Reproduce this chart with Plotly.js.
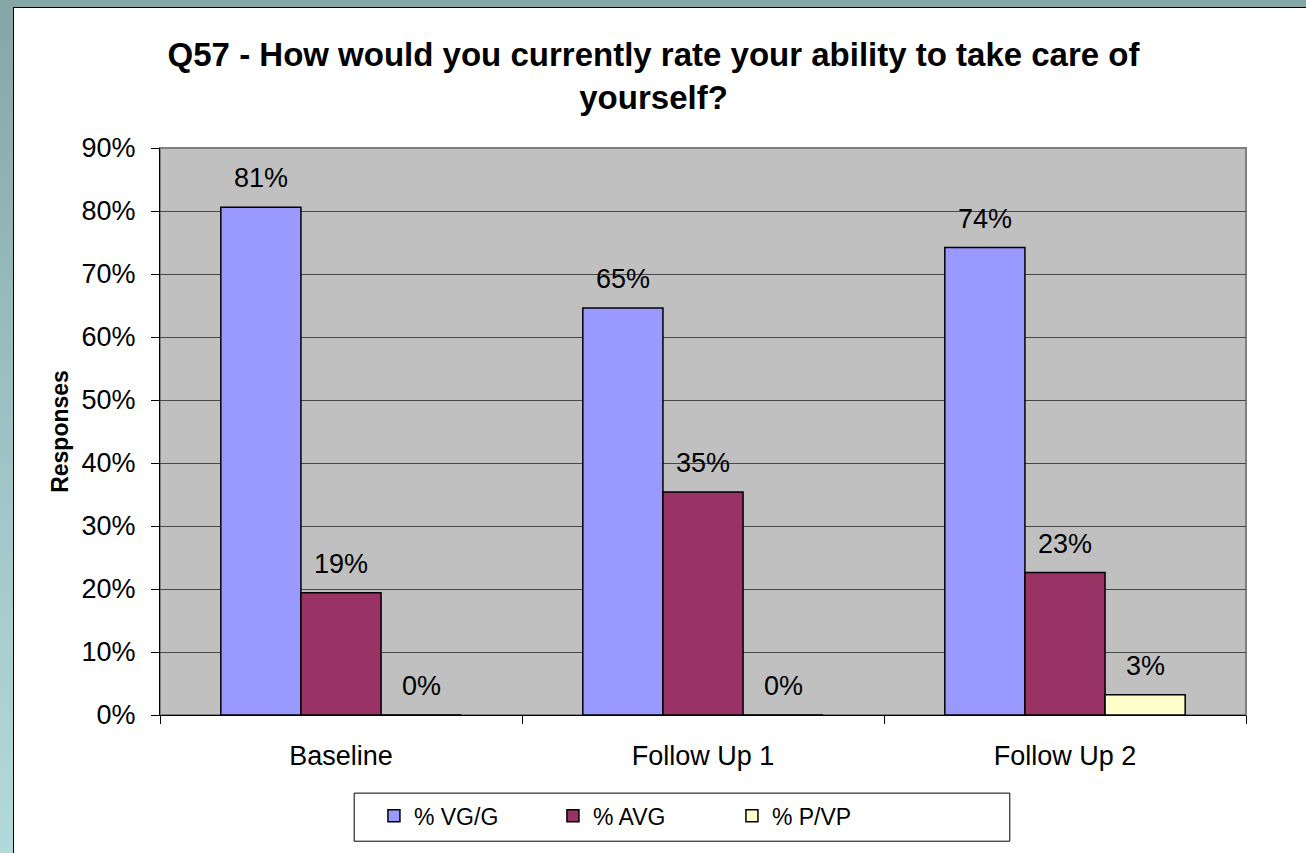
<!DOCTYPE html>
<html>
<head>
<meta charset="utf-8">
<script src="https://cdn.plot.ly/plotly-3.0.1.min.js"></script>
<style>
html, body { margin: 0; padding: 0; width: 1306px; height: 853px; overflow: hidden;
  background: linear-gradient(to bottom, #85a6a7 0%, #9ec2c3 50%, #b2dada 100%); }
#chart { position: absolute; left: 13px; top: 7px; width: 1292px; height: 846px;
  background: #ffffff; border-left: 1px solid #000; border-top: 1px solid #000; }
</style>
</head>
<body>
<div id="chart"></div>
<script>
const categories = ["Baseline", "Follow Up 1", "Follow Up 2"];
const seriesNames = ["% VG/G", "% AVG", "% P/VP"];
const vgG = [0.806, 0.646, 0.742];
const avg = [0.194, 0.354, 0.226];
const pVp = [0.0, 0.0, 0.032];
const yTickVals = [0, 0.1, 0.2, 0.3, 0.4, 0.5, 0.6, 0.7, 0.8, 0.9];
const yTickText = ["0%", "10%", "20%", "30%", "40%", "50%", "60%", "70%", "80%", "90%"];
const colors = ["#9999ff", "#993366", "#ffffcc"];
const seriesValues = [vgG, avg, pVp];

const font = "Liberation Sans, Arial, sans-serif";
const BARGAP = 0.336;
const nSeries = seriesValues.length;
const barW = (1 - BARGAP) / nSeries;

const traces = seriesValues.map((vals, i) => ({
  type: "bar",
  name: seriesNames[i],
  x: categories,
  y: vals,
  marker: { color: colors[i], line: { color: "#000000", width: 1.5 } },
  hoverinfo: "skip"
}));

// data labels, positioned at each bar's center (category index + group offset)
const annotations = [];
seriesValues.forEach((vals, i) => {
  vals.forEach((v, c) => {
    annotations.push({
      xref: "x", yref: "y",
      x: c + (i - (nSeries - 1) / 2) * barW,
      y: v,
      yshift: 29,
      xanchor: "center", yanchor: "middle",
      text: Math.round(v * 100) + "%",
      showarrow: false,
      font: { family: font, size: 27, color: "#000000" }
    });
  });
});

const layout = {
  width: 1292,
  height: 846,
  paper_bgcolor: "#ffffff",
  plot_bgcolor: "#c0c0c0",
  margin: { l: 146, r: 60, t: 140, b: 139 },
  barmode: "group",
  bargap: BARGAP,
  bargroupgap: 0,
  showlegend: true,
  annotations: annotations,
  title: {
    text: "<b>Q57 - How would you currently rate your ability to take care of<br>yourself?</b>",
    font: { family: font, size: 33, color: "#000000" },
    x: 0.495, xref: "container", xanchor: "center",
    y: 0.931, yref: "container", yanchor: "top"
  },
  xaxis: {
    type: "category",
    showgrid: false,
    showline: true, linecolor: "#000000", linewidth: 1,
    ticks: "outside", ticklen: 8, tickcolor: "#000000", tickson: "boundaries",
    tickfont: { family: font, size: 27, color: "#000000" },
    ticklabelstandoff: 17,
    zeroline: false
  },
  yaxis: {
    range: [0, 0.9],
    tickvals: yTickVals,
    ticktext: yTickText,
    showgrid: true, gridcolor: "#474747", gridwidth: 1,
    showline: true, linecolor: "#000000", linewidth: 1,
    ticks: "outside", ticklen: 8, tickcolor: "#000000",
    tickfont: { family: font, size: 27, color: "#000000" },
    ticklabelstandoff: 10,
    zeroline: false,
    title: { text: "<b>Responses</b>", font: { family: font, size: 23, color: "#000000" }, standoff: 6 }
  },
  shapes: [
    {
      type: "rect", xref: "paper", yref: "paper", x0: 0, x1: 1, y0: 0, y1: 1,
      line: { color: "#808080", width: 2 }, layer: "below"
    },
    {
      // legend frame
      type: "rect", xref: "paper", yref: "paper", x0: 0.1788, x1: 0.7825, y0: -0.2226, y1: -0.1378,
      line: { color: "#000000", width: 1 }, fillcolor: "rgba(0,0,0,0)", layer: "above"
    }
  ],
  legend: {
    orientation: "h",
    x: 0.197, xanchor: "left",
    y: -0.14, yanchor: "top",
    bgcolor: "rgba(0,0,0,0)",
    borderwidth: 0,
    font: { family: font, size: 23, color: "#000000" },
    entrywidth: 134,
    traceorder: "normal"
  }
};

Plotly.newPlot("chart", traces, layout, { displayModeBar: false, staticPlot: true });
</script>
</body>
</html>
